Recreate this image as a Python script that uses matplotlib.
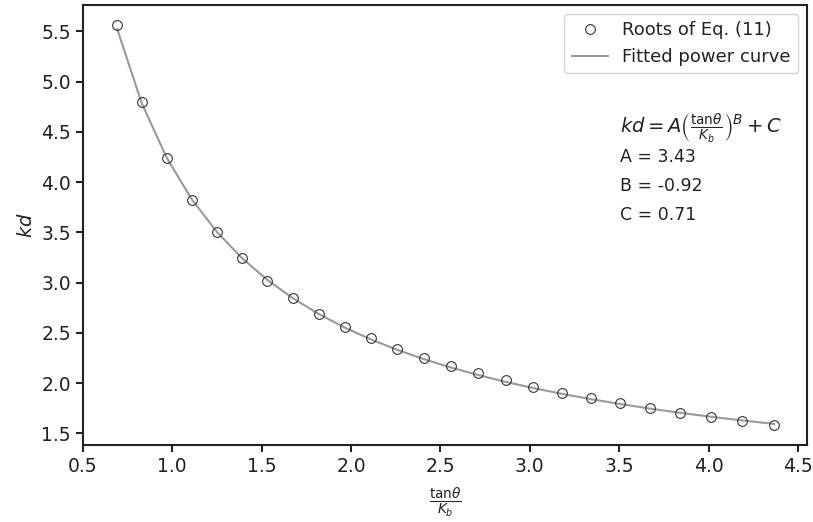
import numpy as np
import matplotlib
matplotlib.use('Agg')
import matplotlib.pyplot as plt

# корни уравнения (11)
x_roots = [0.692, 0.828, 0.968, 1.108, 1.248, 1.388, 1.531, 1.673, 1.819, 1.964,
           2.112, 2.259, 2.408, 2.559, 2.712, 2.867, 3.020, 3.182, 3.343, 3.505,
           3.673, 3.841, 4.013, 4.186, 4.367]
kd_roots = [5.564, 4.794, 4.239, 3.824, 3.499, 3.240, 3.021, 2.845, 2.692, 2.563,
            2.446, 2.344, 2.254, 2.170, 2.098, 2.028, 1.961, 1.905, 1.849, 1.799,
            1.749, 1.702, 1.662, 1.623, 1.583]

# параметры аппроксимации kd = A*(tan/K)^B + C
A = 3.43
B = -0.92
C = 0.71

fig = plt.figure(figsize=(8.13, 5.22), dpi=100)
ax = fig.add_axes([0.102, 0.1475, 0.8906, 0.843])

xv = np.array(x_roots)
pts, = ax.plot(x_roots, kd_roots, 'o', ms=7, mfc='none', mec='#333333', mew=0.8,
               label='Roots of Eq. (11)', zorder=3)
fit, = ax.plot(xv, A * xv ** B + C, color='#999999', lw=1.5, label='Fitted power curve', zorder=2)

ax.set_xticks(np.arange(0.5, 4.51, 0.5))
ax.set_yticks(np.arange(1.5, 5.51, 0.5))
ax.tick_params(labelsize=13.5, length=5, width=1.5, color='#222222', labelcolor='#222222')
for s in ax.spines.values():
    s.set_linewidth(1.5)
    s.set_color('#222222')

ax.set_xlabel(r'$\frac{\mathrm{tan}\theta}{K_b}$', fontsize=14, labelpad=7, color='#222222')
ax.set_ylabel(r'$kd$', fontsize=14, color='#222222')

leg = ax.legend(handles=[pts, fit], loc='upper right', fontsize=13, handlelength=2.0)
for t in leg.get_texts():
    t.set_color('#222222')

ax.text(0.742, 0.72, r'$kd = A\left(\frac{\mathrm{tan}\theta}{K_b}\right)^B + C$',
        transform=ax.transAxes, fontsize=14, va='center', color='#222222')
ax.text(0.742, 0.655, 'A = %.2f' % A, transform=ax.transAxes, fontsize=12.5, va='center', color='#222222')
ax.text(0.742, 0.589, 'B = %.2f' % B, transform=ax.transAxes, fontsize=12.5, va='center', color='#222222')
ax.text(0.742, 0.523, 'C = %.2f' % C, transform=ax.transAxes, fontsize=12.5, va='center', color='#222222')

fig.savefig('out.png', dpi=100)
